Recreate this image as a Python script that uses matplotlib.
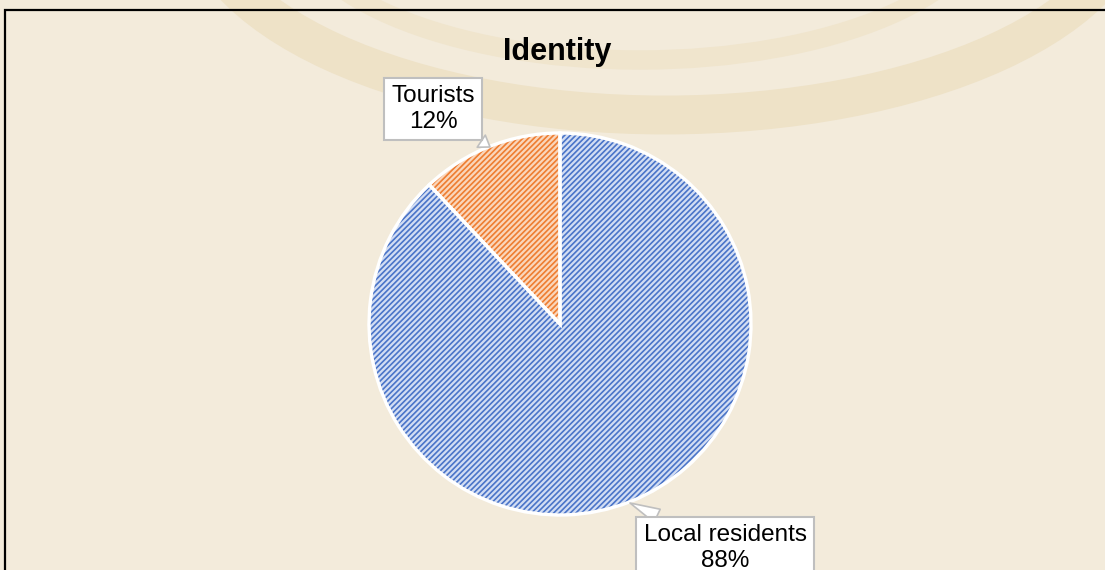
import matplotlib.pyplot as plt
from matplotlib.patches import Ellipse, Rectangle

# Survey respondents by identity
labels = ["Local residents", "Tourists"]
shares = [88, 12]

fill_colors = ["#d2ddf3", "#fad6bb"]
hatch_colors = ["#4a74c8", "#ee7d31"]

W, H = 1105, 570
plt.rcParams['font.family'] = ['Liberation Sans', 'DejaVu Sans']
plt.rcParams['hatch.linewidth'] = 1.2

fig = plt.figure(figsize=(W / 100, H / 100), dpi=100)
fig.patch.set_facecolor("#f3ebdb")
ax = fig.add_axes([0, 0, 1, 1])
ax.set_xlim(0, W)
ax.set_ylim(0, H)
ax.set_aspect("equal")
ax.axis("off")

def up(y):
    # pixel rows counted from the top -> axes y
    return H - y

# faint emblem rings in the background
ax.add_patch(Ellipse((665, up(-100)), 940, 430, fill=False, ec="#eee2c7", lw=28, zorder=0))
ax.add_patch(Ellipse((640, up(-90)), 700, 300, fill=False, ec="#f0e5cd", lw=14, zorder=0))

# chart frame
ax.add_patch(Rectangle((5, up(H + 20)), W + 20, H + 10, fill=False, ec="black", lw=1.6, zorder=1))

cx, cy, r = 560, up(324), 191

# hatched wedges
wedges, _ = ax.pie(shares, center=(cx, cy), radius=r, startangle=90,
                   counterclock=False, colors=fill_colors, frame=True)
for w, hc in zip(wedges, hatch_colors):
    w.set_hatch("//////")
    w.set_edgecolor(hc)
    w.set_linewidth(0)
    w.set_zorder(2)

# white separators on top
outline, _ = ax.pie(shares, center=(cx, cy), radius=r, startangle=90,
                    counterclock=False, colors=["none"] * len(shares), frame=True)
for w in outline:
    w.set_edgecolor("white")
    w.set_linewidth(2.4)
    w.set_zorder(3)

ax.set_xlim(0, W)
ax.set_ylim(0, H)
ax.axis("off")

ax.text(557, up(52), "Identity", ha="center", va="center",
        fontsize=22, fontweight="bold", zorder=5)

# callout labels
callouts = [
    ((630, up(503)), (725, up(548))),
    ((490, up(147)), (433, up(109))),
]
for lab, val, (tip, pos) in zip(labels, shares, callouts):
    ax.annotate(f"{lab}\n{val}%", xy=tip, xytext=pos, ha="center", va="center",
                fontsize=17.5, linespacing=1.25, zorder=6,
                bbox=dict(boxstyle="square,pad=0.3", fc="white", ec="#bfbfbf", lw=1.5),
                arrowprops=dict(arrowstyle="wedge,tail_width=0.6,shrink_factor=0.5",
                                fc="white", ec="#bfbfbf", lw=1.2, shrinkA=0, shrinkB=0))

fig.savefig("out.png", dpi=100, facecolor=fig.get_facecolor())
